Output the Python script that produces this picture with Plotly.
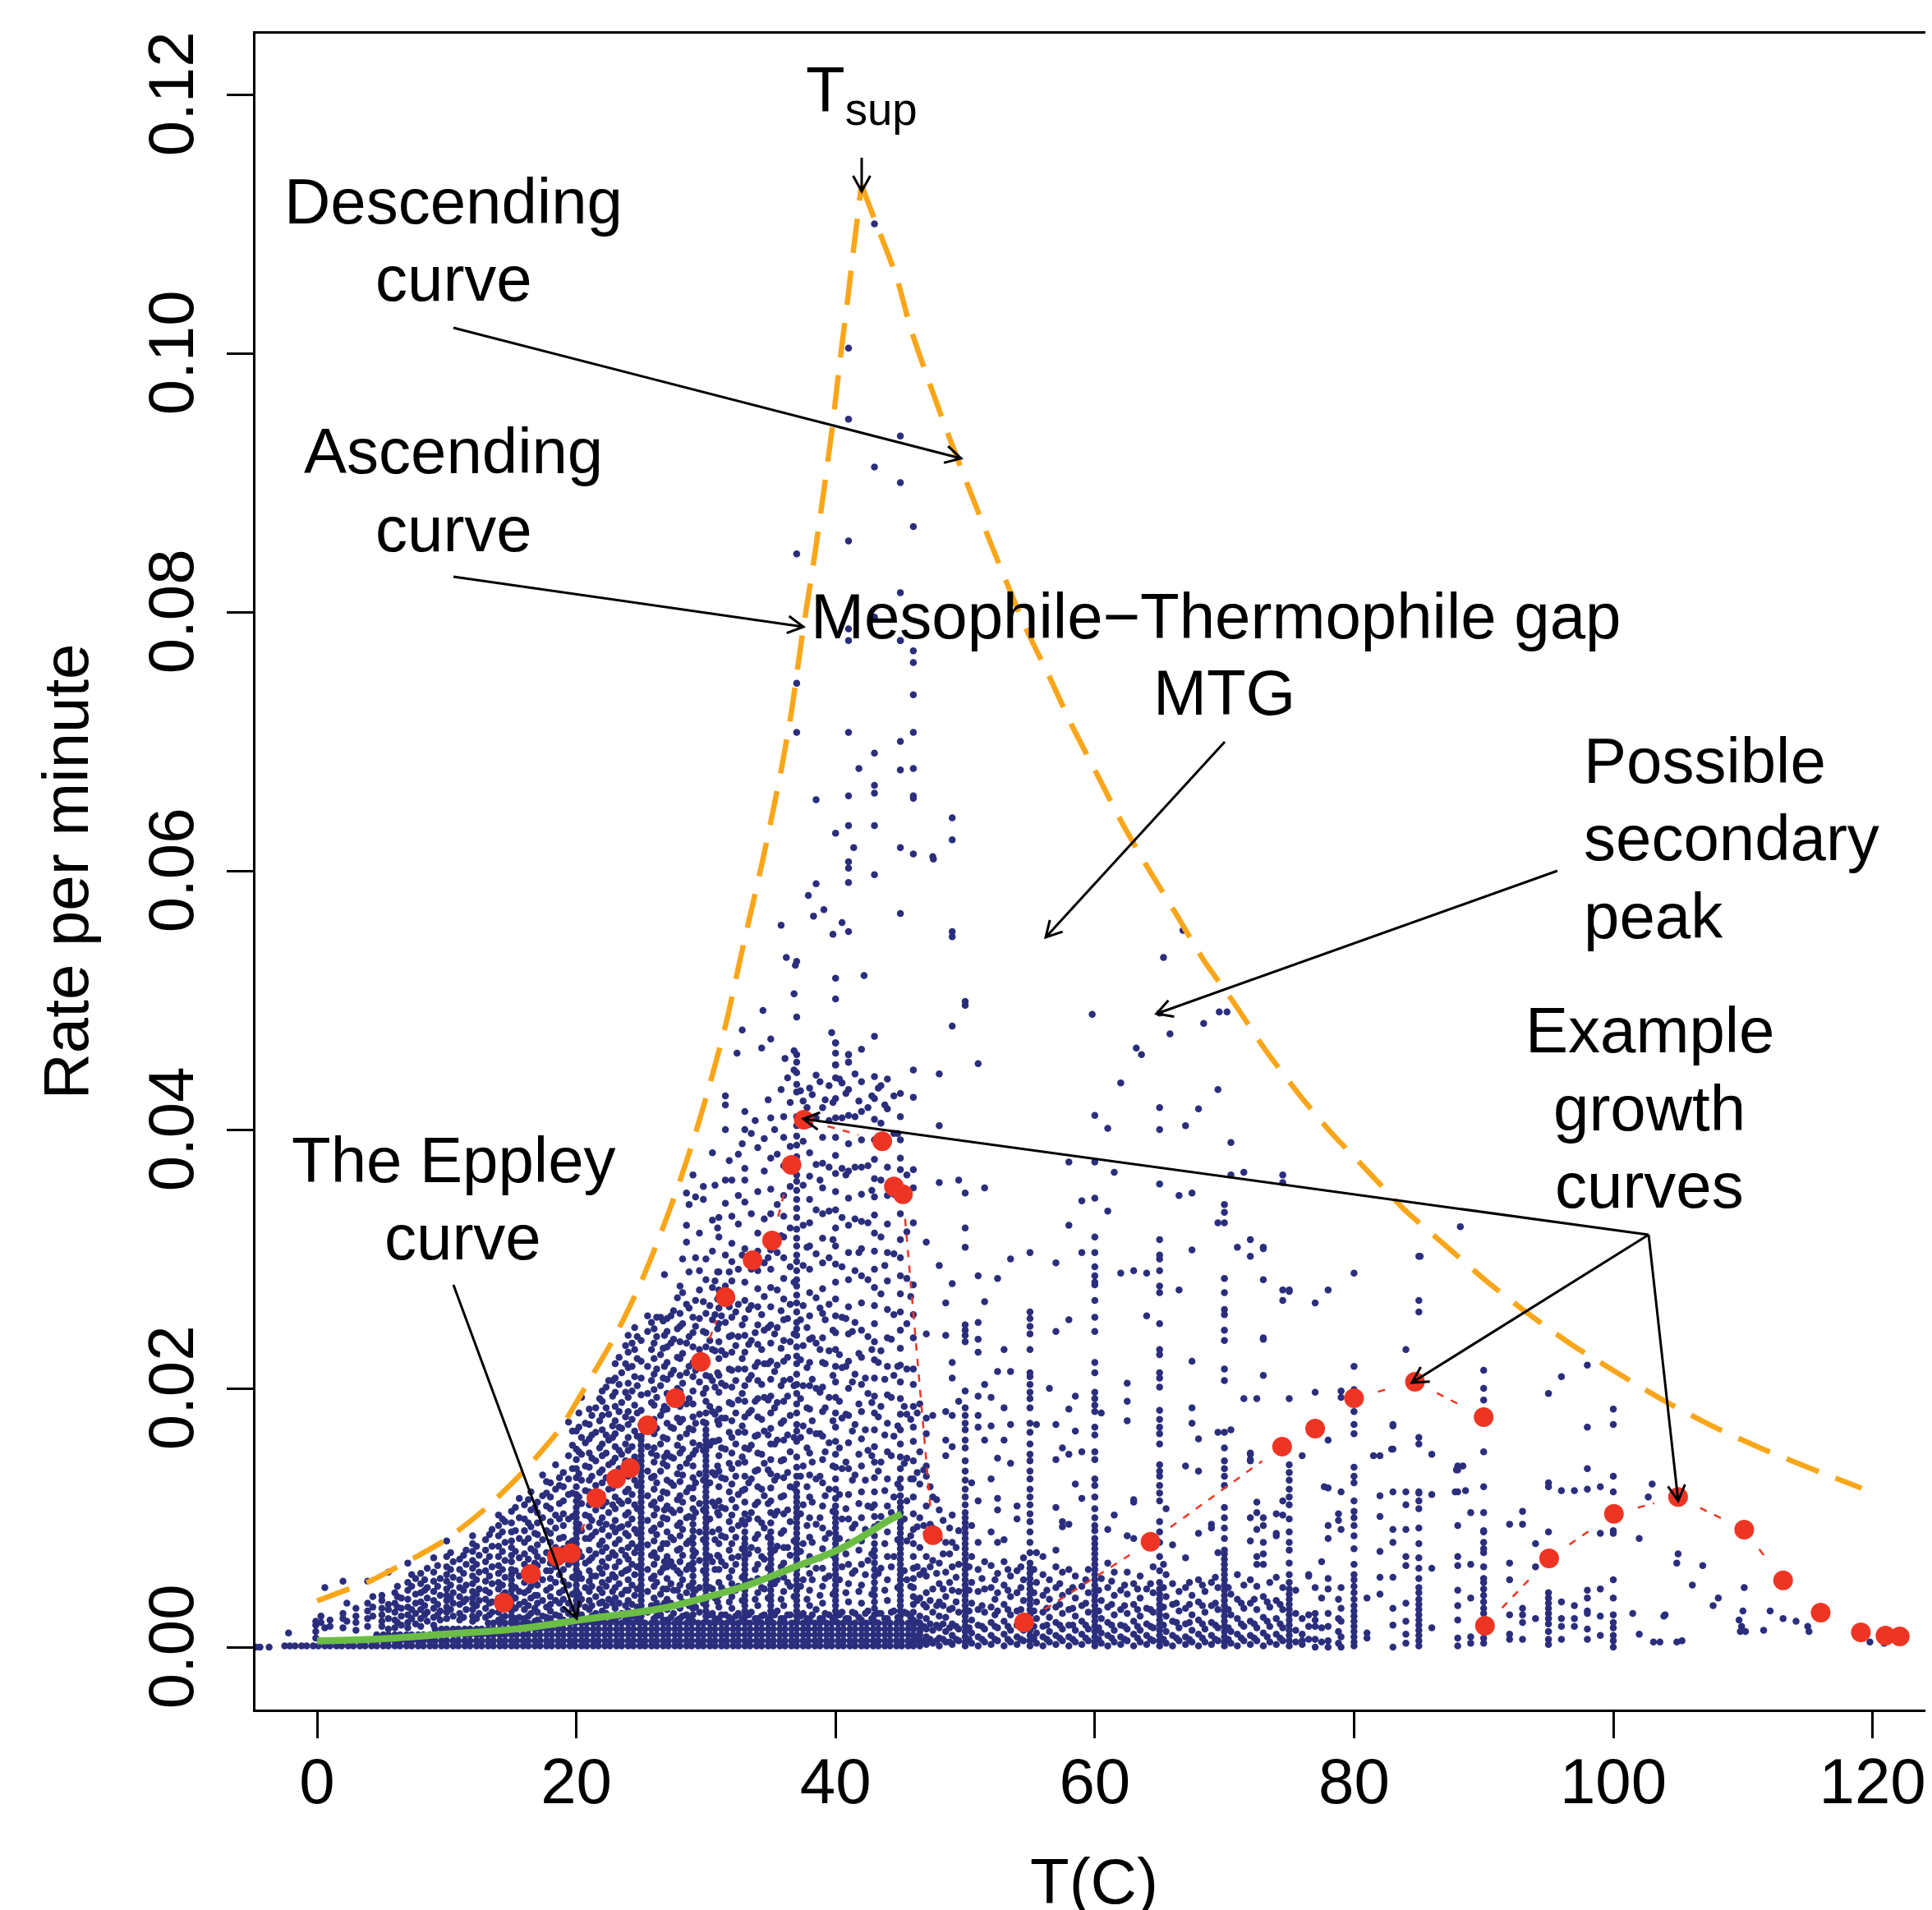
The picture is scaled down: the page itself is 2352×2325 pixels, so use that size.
import plotly.graph_objects as go

# ---------- data (T in deg C, rates in thousandths per minute) ----------
band_T = [-2.5,-2.1,-1.7,-1.2,-.8,-.3,.1,.6,1.0,1.5,1.9,2.4,2.8,3.3,3.7,4.2,4.6,5.1,5.5,6.0,6.4,6.9,7.3,7.8,8.2,8.7,9.1,9.6,10.0,10.5,10.9,11.4,11.8,12.3,12.7,13.2,13.6,14.1,14.5,15.0,15.4,15.9,16.3,16.8,17.2,17.7,18.1,18.6,19.0,19.5,19.9,20.4,20.8,21.3,21.7,22.2,22.6,23.1,23.5,24.0,24.4,24.9,25.3,25.8,26.2,26.7,27.1,27.6,28.0,28.5,28.9,29.4,29.8,30.3,30.7,31.2,31.6,32.1,32.5,33.0,33.4,33.9,34.3,34.8,35.2,35.7,36.1,36.6,37.0,37.5,37.9,38.4,38.8,39.3,39.7,40.2,40.6,41.1,41.5,42.0,42.4,42.9,43.3,43.8,44.2,44.7,45.1,45.6,46.0,46.5]
band_rate = [.1,.5,.95,1.4,1.85]
band_start = [-2.5,.5,4.5,9,13]
far_left_T = [-4.7,-4.4,-3.7]
far_left_rate = [0,0,0]

blue_columns = [
(-2.2,[1.1]),(-.1,[.7,1.2,1.7,2.0]),(.6,[1.5,4.6]),(1,[1.6,2.1]),(2,[1.5,2.2,2.6,5.1]),(3,[1.3,1.9,2.4,3.0]),(3.9,[1.6,2.2,2.8,3.4,5.1]),
(5,[1.6,2,2.5,3,3.6,4.0]),(5.5,[1.4,2.2,2.9,3.3,5.8]),(6,[1.5,2.1,2.7,3.4,4.2]),(6.5,[1.7,2.4,3,3.8]),(7,[1.5,1.9,2.5,3.1,3.7,4.4,5.0,6.5]),(7.6,[1.8,2.6,3.4,4.1,5.3]),
(8,[1.6,2.2,2.9,3.5,4.2,4.9,5.7]),(8.5,[2,2.7,3.8,4.6,6.1]),(9,[1.7,2.3,3,3.6,4.3,5.1,5.8,6.9]),(9.5,[2.1,2.8,4,5.3]),
(10,[2.2,2.7,3.1,3.6,4,4.5,5.1,5.6,6.2,7,8.2]),(10.5,[2.4,3.4,4.2,5.4,6.6]),(11,[2.1,2.6,3.3,3.9,4.6,5.2,6,6.8]),(11.5,[2.9,3.7,4.8,6.4,7.5]),
(12,[2,2.4,2.9,3.4,3.8,4.3,4.9,5.5,6.1,6.7,7.4,8,8.6]),(12.5,[2.6,3.6,4.5,5.8,7.1]),(13,[2.3,3,3.7,4.4,5.1,5.9,6.6,7.5,8.3]),(13.5,[2.7,3.5,4.9,6.2,7.8,9.1]),
(14,[2.1,2.7,3.2,3.8,4.5,5,5.7,6.3,7,7.8,8.6,9.4,10.2]),(14.5,[2.4,3.4,4.2,5.4,6.7,8.1,9.7]),
(15,[2,2.4,2.8,3.2,3.6,4,4.4,4.8,5.2,5.6,6,6.6,7.1,7.7,8.2,8.9,9.6,10.5]),(15.6,[2.3,3.3,4.3,5.5,6.9,8.4,10,11.5]),
(16,[2.2,2.9,3.5,4.2,5,5.8,6.4,7.2,8.1,9,9.9,11]),(16.5,[2.6,3.8,4.7,6.1,7.6,9.3,10.6,12]),
(17,[2.1,2.7,3.4,4,4.8,5.5,6.3,7,7.9,8.7,9.6,10.4,11.2]),(17.4,[2.4,3.6,5.2,6.7,8.3,10,11.7,13.3]),
(18,[2.2,2.8,3.3,3.9,4.6,5.3,5.9,6.5,7.3,8.1,8.8,9.7,10.7,11.6,12.7]),(18.4,[2.5,3.6,5,6.2,7.7,9.2,10.2,12.2,14.1]),
(19,[2.1,2.9,3.7,4.4,5.1,6,6.8,7.6,8.5,9.4,10.3,11.3,12.4,13.5]),(19.4,[2.6,3.4,4.8,6.4,8,9.9,11.8,13,14.8,17.4]),
(20,[2,2.4,2.8,3.2,3.6,4,4.4,4.8,5.2,5.6,6,6.4,6.8,7.2,7.6,8,8.4,8.8,9.2,9.6,10,10.4,10.8,11.3,11.8,12.4,13.1,13.8,14.5,15.3,16.7]),(20.4,[2.5,3.7,5.3,7,9,11.1,12.9,14.9,16.2,19.3]),(20.7,[3.1,4.6,6.5,8.4,10.2,12.1,14,15.8,17.3]),
(21,[2.2,2.9,3.6,4.3,5.1,5.9,6.7,7.5,8.4,9.3,10.1,11,12,12.9,13.9,15,16.1,17.2,18.4]),(21.5,[2.6,3.9,5.5,7.2,8.9,10.6,12.5,14.4,16.6,18.5]),
(22,[2.1,2.8,3.5,4.2,5,5.7,6.6,7.4,8.2,9.1,10,10.9,11.8,12.7,13.7,14.8,15.7,16.8,17.9,19,19.8]),(22.5,[2.4,3.7,5.2,6.9,8.6,10.4,12.2,14.1,16,18,20.6]),
(23,[2.2,3,3.8,4.6,5.4,6.2,7.1,8,8.9,9.8,10.7,11.6,12.6,13.5,14.6,15.5,16.5,17.5,18.6,19.7,20.8,21.9]),(23.5,[2.6,4.1,5.7,7.5,9.3,11.1,13,14.9,16.9,18.9,21.2]),
(24,[2.1,2.8,3.6,4.4,5.2,6,6.8,7.7,8.6,9.5,10.4,11.3,12.2,13.2,14.1,15.2,16.2,17.2,18.2,19.3,20.4,21.6,22.8,24.1]),(24.5,[2.5,4,5.6,7.3,9.1,11,12.9,14.7,16.7,18.7,20.9,23,24.7]),
(25,[2,2.4,2.8,3.2,3.6,4,4.4,4.8,5.2,5.6,6,6.4,6.8,7.2,7.6,8,8.4,8.8,9.2,9.6,10,10.4,10.8,11.2,11.6,12,12.4,12.8,13.2,13.6,14,14.4,14.8,15.2,15.6,16,16.3,17.2,18.3,19.5,20.8,22.1,23.7]),(25.5,[2.7,4.3,6,7.9,9.8,11.7,13.6,15.5,17.5,19.6,21.7,24.4,25.6]),(25.8,[3.2,5.3,7.1,9,11,13.1,15,16.9,18.9,20.6,23,25.1]),
(26,[2.2,3,3.8,4.7,5.5,6.4,7.3,8.2,9.2,10.2,11.2,12.2,13.2,14.3,15.4,16.5,17.6,18.7,19.9,21.1,22.3,23.5,24.6]),(26.5,[2.5,4.1,5.8,7.6,9.5,11.5,13.6,15.7,17.9,20.2,22.6,25.5]),(26.8,[3.4,6.6,10.6,14.7,18.6,21.7,24.1,28.8]),
(27,[2.1,2.9,3.7,4.5,5.3,6.2,7,8,8.9,9.9,10.9,11.9,12.9,14,15,16.1,17.3,18.4,19.6,20.7,22,23.2,24.4,25.4]),(27.5,[2.6,4.4,6.2,8.3,10.4,12.5,14.6,16.9,19.2,21.4,23.8,26]),
(28,[2.2,3,3.9,4.8,5.7,6.6,7.6,8.6,9.6,10.6,11.7,12.8,13.9,15,16.2,17.4,18.6,19.8,21,22.3,23.6,24.8,25.8,27.9]),(28.5,[2.5,4.2,6,8,10,12,14.2,16.5,18.8,21.2,23.5,26.5,31.3,32.6,35.1]),
(29,[2,2.5,3,3.5,4,4.5,5,5.5,6,6.5,7,7.5,8,8.5,9,9.5,10,10.7,11.5,12.3,13.1,14,14.9,15.8,16.8,17.8,18.8,19.8,20.9,22,23.2,24.3,25.5,36.5]),(29.5,[2.7,4.6,6.7,8.9,11.1,13.4,15.6,18,20.5,23,25.4,27.6,29.1,32]),(29.8,[3.4,5.9,8.3,10.6,12.9,15.2,17.4,19.6,21.9,24.4,26.7,34.6,35.6]),
(30,[2,2.4,2.8,3.2,3.6,4,4.4,4.8,5.2,5.6,6,6.4,6.8,7.2,7.6,8,8.4,8.8,9.2,9.6,10,10.4,10.8,11.2,11.6,12,12.4,12.8,13.2,13.6,14,14.4,14.8,15.2,15.6,16,16.4,16.8,17.3,18.1,19,20,21,22.1,23.2,24.3,25.8,28.4,30]),(30.5,[2.6,4.5,6.6,8.9,11.2,13.5,15.9,18.2,20.6,23,25.3,27.8,30.6,33,38.2]),(30.9,[3.5,7.1,10.4,14,17.5,21.2,24.6,26.9,29,32.4]),
(31,[2.2,3.1,4,5,6,7,8,9.1,10.2,11.3,12.4,13.6,14.8,16,17.2,18.4,19.7,21,22.3,23.6,25,26.2,27.6,29,31.7,33.2]),(31.5,[2.5,4.3,6.3,8.5,10.7,13,15.3,17.7,20.2,22.6,25.1,27.9,30.3,34.3,36.1,40,41.9,42.6]),
(32,[2.1,3,3.9,4.9,5.9,6.9,8,9.1,10.2,11.4,12.6,13.8,15,16.2,17.5,18.8,20.1,21.4,22.8,24.1,25.5,26.9,28.3,29.8,31.2,33.3,36.1]),(32.5,[2.6,4.7,7,9.4,11.8,14.2,16.6,19.1,21.5,24,26.5,29.2,32.7,34.9,38.1]),
(33,[2,2.4,2.8,3.2,3.6,4,4.4,4.8,5.2,5.6,6,6.4,6.8,7.2,7.6,8,8.4,8.9,9.5,10.3,11.2,12.2,13.2,14.3,15.4,16.6,17.8,19,20.2,21.5,22.8,24.1,25.4,26.8,28.2,30.8,34.4,36.1,37,40,41.4]),(33.5,[2.7,5.1,7.7,10.4,13,15.6,18.3,21,23.7,26.4,29.2,33.5,39.7]),
(34,[2.2,3.2,4.2,5.3,6.4,7.5,8.7,9.9,11.2,12.4,13.7,15,16.4,17.8,19.2,20.6,22,23.4,24.9,26.3,27.7,29.1,30.6,32,35.2,38.6]),(34.5,[2.5,4.5,6.8,9.2,11.7,14.2,16.7,19.3,21.9,24.5,27.1,29.7,33.1,36.8,39.3]),
(35,[2,2.4,2.8,3.2,3.6,4,4.4,4.8,5.2,5.6,6,6.4,6.8,7.2,7.6,8,8.4,8.9,9.6,10.4,11.3,12.3,13.4,14.5,15.7,16.9,18.1,19.4,20.7,22.1,23.5,24.9,26.3,27.8,29.2,30.7,33.5,35.4,37.8,40.9]),(35.5,[2.8,5.2,7.8,10.5,13.2,16,18.9,21.8,24.7,27.6,30.5,34.2,38.1]),
(36,[2.2,3.2,4.3,5.4,6.5,7.7,9,10.3,11.7,13.1,14.5,16,17.5,19,20.6,22.1,23.7,25.3,26.9,28.5,30.1,31.7,33.3,34.9,37.2,39.4,41]),(36.5,[2.5,4.7,7.1,9.7,12.4,15.1,17.9,20.7,23.6,26.5,29.4,32.4,35.6,38.7,42.1]),
(37,[2,2.4,2.8,3.2,3.6,4,4.4,4.8,5.2,5.6,6,6.4,6.8,7.2,7.6,8,8.4,8.8,9.2,9.6,10,10.4,10.8,11.2,11.6,12,12.6,13.2,13.9,14.7,15.9,16.7,17.2,18.1,18.8,19.6,20.3,21.1,21.9,22.5,23.2,24.1,24.6,25.1,25.9,26.6,27.2,27.9,28.4,29.1,29.8,30.3,31,31.6,32.3,33.2,33.9,34.6,35.3,36,36.5,37.2,37.9,38.8,39.5,40.3,41,42.9,43.5,44.4]),
(37.5,[2.6,5.2,8,11,14,17.1,20.2,23.3,26.4,29.5,32.6,35.7,39.1,42.2]),(38,[2.1,3.2,4.4,5.7,7,8.5,10,11.6,13.3,15,16.7,18.4,20.2,22,23.8,25.6,27.4,29.2,31,32.8,34.6,36.4,38.2,40.4,43.2]),(38.5,[2.9,6.1,9.5,13,16.5,20,23.5,27,30.4,33.8,37.3,40.9,44.2]),
(39,[2.2,3.4,4.7,6.1,7.6,9.2,10.9,12.7,14.5,16.3,18.2,20.1,22,23.9,25.8,27.7,29.7,31.6,33.5,35.5,37.4,39.4,41.7]),(39.5,[2.5,5.5,8.8,12.2,15.8,19.3,22.9,26.5,30.1,33.7,37.1,40.7,43.4]),
(40,[2,2.4,2.8,3.2,3.6,4,4.4,4.8,5.2,5.6,6,6.4,6.8,7.2,7.6,8,8.4,8.8,9.2,9.6,10,10.4,10.9,11.5,12.2,13,13.9,14.9,15.9,17,18.1,19.3,20.5,21.7,23,24.3,25.6,26.9,28.2,29.6,31,32.4,33.8,35.2,36.6,38,39.4,40.9,42.4,44,45,46.7]),(40.5,[2.7,6.2,9.9,13.8,17.7,21.6,25.5,29.4,33.2,37,40.9,43.6]),
(41,[2.2,3.5,4.9,6.4,8.1,9.9,11.8,13.8,15.8,17.9,20,22.1,24.2,26.3,28.4,30.5,32.6,34.7,36.8,38.9,41.1,43.1,45.2,45.8]),(41.5,[2.6,5.9,9.5,13.3,17.2,21.1,25.1,29.1,33.1,37.1,41,44.3]),
(42,[2.1,3.4,4.8,6.4,8.2,10,12,14,16.1,18.2,20.3,22.4,24.5,26.6,28.7,30.8,32.9,35,37.1,39.2,41.4,43.7,46.2]),(42.5,[2.8,6.7,10.9,15.2,19.6,24,28.4,32.8,37.2,41.7]),
(43,[2,2.5,3,3.5,4,4.5,5,5.5,6,6.5,7,7.5,8,8.6,9.3,10.1,11,12,13.1,14.3,15.5,16.8,18.1,19.4,20.8,22.2,23.6,25,26.4,27.8,29.2,30.6,32,33.4,34.8,36.2,37.7,39.2,40.8,42.4,44.1]),(43.5,[2.6,6.1,10.1,14.3,18.6,22.9,27.3,31.7,36.1,40.5,43.4]),
(44,[2.2,3.6,5.2,7,8.9,10.9,13,15.1,17.3,19.5,21.7,23.9,26.1,28.3,30.5,32.7,34.9,37.1,39.3,41.6,43.9]),(44.5,[2.8,7,11.6,16.3,21,25.7,30.4,35,39.7,42.6]),
(45,[2,2.4,2.8,3.2,3.6,4,4.4,4.8,5.2,5.6,6,6.4,6.8,7.2,7.6,8,8.4,8.8,9.2,9.6,10,10.4,10.8,11.2,11.7,12.3,13,13.8,14.7,15.7,16.8,18,19.2,20.5,21.8,23.1,24.5,25.9,27.3,28.7,30.1,31.5,33.5,35.5,36.9,37.8,39.2,41,42.8]),(45.5,[2.6,5.2,8.2,11.3,14.6,18,21.5,25,28.5,32.1,35.1,36.5]),
(46,[.3,.9,1.5,2.1,2.7,3.3,3.9,4.6,5.3,6.1,7,8,9.1,10.3,11.6,13,14.4,15.9,17,18.6,20.3,21.5,23.9,25.7,28,32.8,35.5,36.9,42.5,44.6]),(46.5,[.4,1.2,2.4,3.8,5.6,7.7,10,12.6,15.1,18.8]),
(47,[.2,.8,1.4,2.2,3.1,4.2,5.5,7,8.8,10.9,13.2,14,16.5,17.7,24.2,31.3]),(47.5,[.3,1.3,2.7,4.5,6.7,9.2,11.6,17.9]),
(48,[.1,.7,1.5,2.4,3.5,4.9,6.5,8.4,10.6,29.5,35.9,40.3,44.3]),(48.5,[.4,1.2,2.3,3.9,5.8,8.1,14.8,16,18.2,24.1,26.6]),
(49,[.2,.9,1.8,3,4.4,6.2,8.1,10.2,15.5,17.9,20.8,22,28.1]),(49.5,[.5,1.4,2.7,4.3,6.4,9,19,36.1]),
(50,[.1,.4,.8,1.2,1.6,2,2.4,2.8,3.2,3.6,4,4.4,4.8,5.2,5.6,6,6.4,6.8,7.2,7.6,8,8.4,8.8,9.2,9.6,10,10.4,11,11.6,12.2,12.9,13.6,14.4,15.4,16,16.8,17.3,17.9,18.5,19.8,23.6,24.1,24.5,24.9,30.9,32.4,35.1]),
(50.5,[.3,1.1,2.1,3.4,5,7,9.4,12.7]),(51,[.1,.8,1.7,2.9,4.3,6,8.1,11.3,17,17.9,19.4,22.8,23.8,25.1,28.7]),(51.5,[.4,1.4,2.7,4.5,6.6,20.3,26.7,35.5,16]),
(52,[.2,.9,1.9,3.1,4.6,6.3,8.9,13,17.1,19.3]),(52.5,[.5,1.5,2.8,4.2,5.7,8.1,10.6,11.5,14.6,21.3,28.5]),(53,[.1,1,2,3.3,4.8,6.6,8.3,16,18.5,23]),(53.5,[.4,1.3,2.5,3.9,5.5,17.2,21.3,30,14.2]),
(54,[.2,.8,1.7,2.8,4.2,5.9,9.9,10.9]),(54.5,[.5,1.3,2.3,3.6,5.2,6.9]),
(55,[.1,.5,.9,1.3,1.7,2.1,2.5,2.9,3.3,3.7,4.1,4.5,4.9,5.3,5.7,6.1,6.5,7.3,8.1,8.9,9.7,10.3,11,11.6,12.2,13,13.6,14.4,14.9,15.7,16.6,17.3,18.5,19.2,19.7,20.3,20.9,21.2,23,24.2,24.8,25.4,25.9,30.5]),
(55.5,[.3,1.1,2.2,3.5,5,7.3,17.2]),(56,[.1,.8,1.6,2.7,4,5.6,7]),(56.5,[.4,1.2,2.3,3.7,5.2,20]),(57,[.2,.9,1.9,3.1,4.6,6.2,7.5,10.8,14.5,17.2,24.4,29.7]),(57.5,[.5,1.4,2.6,4,5.8,9.3,9.7,15.4]),(58,[.1,.8,1.7,2.9,4.3,6,9.5,14.9,18.4,25.3,32.6,37.5]),(58.5,[.4,1.3,2.4,3.8,5.5,12.6,16.7,19.4]),(59,[.2,1,2,3.2,4.7,11.5,15.1,30.5,34.5]),(59.5,[.5,1.4,2.7,4.2,6]),
(60,[.1,.4,.8,1.2,1.6,2,2.4,2.8,3.2,3.6,4,4.4,4.8,5.2,5.6,6,6.4,6.8,7.2,7.6,8,8.4,9,9.4,10,10.7,11.6,12.5,13,14.5,15.1,16.4,17,18.2,18.7,19.2,19.7,21.2,22,24.4,25.5,26.8,28,28.2,28.7,29.4,30.5,31.7,34.7,37.5,41.1]),
(60.5,[.3,1.1,2.2,3.6,5.3,18.1]),(61,[.1,.9,1.9,3.1,4.6,6.5,9.1,33.7,40.1]),(61.5,[.4,1.3,2.5,4,5.8,10.2,36.7]),(62,[.2,.8,1.7,2.9,4.4,28.9,43.6]),(62.5,[.5,1.4,2.6,4.1,5.8,8.6,17.5,19,20.4]),(63,[.1,1,2,3.3,4.9,8.4,11.2,11.4,29.1]),(63.5,[.4,1.3,2.4,3.8,5.5]),(64,[.2,.9,1.8,3,4.5,28.9,25.6]),(64.5,[.5,1.5,2.7,4.2,6.2]),
(65,[.1,.5,.9,1.3,1.7,2.1,2.5,2.9,3.3,3.7,4.1,4.5,5,5.9,7,8.1,8.9,9.7,11.3,11.9,12.5,13.2,13.6,14.1,15.7,16.5,17,17.6,18.3,20.1,20.8,21.2,22.6,23,25,27.4,27.9,29.1,30,30.3,31.5,35.8,40,41.7]),
(65.5,[.3,1.2,2.4,3.9,5.6,10.7]),(66,[.1,.9,2,3.3,4.9,7.9]),(66.5,[.5,1.5,2.8,4.3,27.6,34.9]),(67,[.2,.8,1.8,3,4.6,6.9,14,40.3]),(67.5,[.4,1.3,2.5,4,22.1,30.7,35.1,17.3,18.5]),(68,[.1,1,2.1,3.5,5.2,8.8,13.6,16.1,41.6]),(68.5,[.4,1.4,2.7,4.3]),(69,[.2,.9,1.9,3.2,5,9.2,9.5]),(69.5,[.5,1.5,2.9,4.6,7.3,16.6,32.8,43.1]),
(70,[.1,.4,.8,1.2,1.6,2,2.4,2.8,3.2,3.6,4,4.4,4.8,5.2,5.6,6,6.4,6.8,7.2,7.5,8.4,9.2,10,10.8,12.5,13.2,13.8,14.4,15.4,16.6,20.6,21.5,23.7,24.5,25.7,26.1,27.4,28.5,32.8,33.6,34.2]),
(70.5,[.3,1.2,2.5,4.1,16.8,39,36.5]),(71,[.1,1,2.2,3.7,5.6,30.9]),(71.5,[.5,1.6,3,4.8,19.2,36.7]),(72,[.2,.9,2,3.4,5.2,10,14.5,14.9,31.5,30.2,14.4,15,8.2]),(72.5,[.5,1.5,2.9,4.7,6.4,7,9.1,19.2,10.4,11.2]),(73,[.1,1.1,2.3,3.9,6.4,7.2,8.1,10,9.4,21,23.8,28.4,30.8,30.9,23.9]),(73.5,[.4,1.6,3.1,5]),(74,[.2,1,2.2,3.6,5.4,8.6,8.8,10.3]),(74.5,[.5,1.5,2.9,4.6,10.2,11.3,26.8,27.6,36.5,35.9]),
(75,[.1,.5,.9,1.3,1.7,2.1,2.5,2.9,3.3,3.7,4.1,4.5,5,5.6,6.5,7.5,8.1,8.9,9.9,11,11.6,12.2,12.9,13.5,14.1,27.5,19.2,27.6]),(75.5,[.4,1.3,2.6,4.4]),(76,[.2,1,2.2,.5,14.8]),(76.5,[.6,1.6,2.5,5.5,5.6]),(77,[.0,.6,1.6,2.1,2.6,4.6,19.7,26.6]),(77.5,[.4,1.5,3.8,6.6]),(78,[.0,.5,1.6,2.6,4.5,5.3,8.4,9.4,16,27.6,12.3]),(78.8,[.3,1.2,2.2,3.7,9.8,10.3]),(79,[.0,.8,2,3,4.6,9.1,12,19.3,19.8]),
(80,[.1,.4,.8,1.2,1.6,2,2.4,2.8,3.2,3.7,4.2,4.7,5.2,5.6,6.4,7.6,8.6,9.4,10,10.5,11.3,12.7,13.2,13.9,16.5,17.2,18.2,19.9,21.7,28.9]),(81,[.7,1.1,3.8]),(82,[4.1,5.4,7.4,11.7,14.8,10.1]),(83,[.0,1.7,3,5.4,8.1,15.3,17.1,17.2,9.1,12]),(84,[.3,1,2,3.4,6.3,7,9.1,12,11,23]),
(85,[.1,.5,.9,1.3,1.7,2.1,2.5,2.9,3.3,3.7,4.2,4.6,5.3,6.1,6.9,8,9.2,10.7,11.3,11.9,12,15.7,16.2,25.9,26.8,30.2]),(86,[1.5,6.1,11.8,14.9]),(88,[.1,.7,2.1,3.2,4.4,6.3,7,9.4,12,13.7,14]),(89,[.3,.8,3.8,6.4,10.4]),
(90,[.3,.7,1.2,1.7,2.1,2.6,3,3.5,4,4.5,5,5.3,6.2,7.3,7.6,8.1,8.9,9,10.4,12.4,15.1,19.1,20,21.4]),(92,[.6,1,2.5,5.2,6.5,9.5]),(93,[.6,1.9,2.5,3,9.5,10.5]),(94,[2.2,6.2,8]),
(95,[.2,.6,1.2,1.8,2.2,2.6,3,3.4,3.8,4.2,8.9,12.4,12.7,19.6]),(96,[.6,1.6,2.2,3.5,12.1,20.9]),(97,[1.6,2.2,3.2,12.1]),(98,[.6,1.4,2.6,2.8,3.8,4.4,12.2,13.8,17,21.8]),(99,[.9,2.4,8.8,4.5,12.4]),
(100,[.0,.5,.9,1.5,1.9,2.5,3.8,5.2,8.8,9,12,13.2,17.2,18.4]),
]

# further off-column dots filling the crowded lower-left of the cloud
blue_fill_columns = [
(.3,[1.9,2.4]),(2.3,[2,3.4]),(4.3,[2.4,3.1,3.9]),(6.2,[1.9,3.1,3.9,4.7]),(7.3,[2.2,2.9,4.7,5.6]),(8.3,[2.5,3.2,4.4,5.2]),(9.3,[2.5,3.3,4.7,6.3]),(10.3,[2.9,3.8,4.8,6,7.3]),(11.3,[2.3,3.5,4.4,5.7,7.1]),(12.3,[2.2,3.2,4.1,5.2,6.4,7.8]),(13.3,[2.5,3.4,4.2,5.5,7,8.7]),(14.3,[2.3,3,4,4.8,6,7.4,8.9,9.9]),(15.3,[2.2,3,3.8,4.6,5.9,7.4,9,10.8]),
(16.3,[2.4,3.2,4.4,5.3,6.8,8.4,9.6,11.4]),(16.8,[2,3,4,5.1,6.5,7.4,8.8,10.8]),(17.7,[2.3,3.1,4.4,5.9,7.3,9,10.9,11.9,12.8]),(18.7,[2.4,3.4,4.2,5.6,6.9,8.4,9.9,11.1,13.1,12.5]),(19.7,[2.2,3,4.1,5.4,6.6,8.2,10.1,11.9,13.8,15.6,16.7]),
(20.2,[2.3,3.3,4.1,5.7,7.4,9.5,11.6,13.4,15.1,17,18.1]),(21.2,[2.4,3.2,4.7,5.5,6.9,8.6,9.8,11.4,13.2,14.6,16.4,17.9]),(21.8,[2.1,3.4,4.5,6.1,7.9,9.6,11.5,13.5,15.4,17.5,19.2]),(22.3,[2.6,3.2,4.7,6.2,7.7,9.5,11.2,13.1,15,16.4,18.5,20.1]),(22.8,[2.2,3.4,4.3,5.6,7.3,9.3,11,12.3,14.3,16.2,17.1,19.4,20.6]),
(23.3,[2.4,3.4,4.9,6.6,8.3,9.2,11.3,13.8,15.2,17,18.2,20.3,22.4]),(23.8,[2.1,3.2,4.4,5.9,7.1,8.8,10.2,12,14.4,15.7,17.8,19.7,21.9,23.3]),(24.3,[2.4,3.3,4.8,6.4,8,9.9,11.8,13.5,15.5,17.6,19.8,21.7,23.5]),(24.7,[2.2,3.1,4.5,6.2,7.7,8.8,10.7,12.5,14.3,16.3,18.1,20.2,22.3,24]),
(26.2,[2.4,3.4,5,6.9,8.7,10.7,12.7,14.8,16.9,19.3,21.5,24,25.5]),(26.7,[2.1,3.2,4.5,6.1,8,10,12,14.2,16.2,18.3,20.8,23.1,25.2]),(27.3,[2.3,3.4,4.9,6.6,8.5,10.6,12.7,14.7,17,19.1,21.1,23.5,25.6]),(27.8,[2.1,3.2,4.4,5.9,7.5,9.4,11.4,13.4,15.6,17.7,20,22.4,24.6,27]),
(28.2,[2.4,3.5,5.2,7.1,9.1,11.2,13.3,15.3,17.6,20.4,22.7,25,27.4,30]),(28.7,[2.2,3.2,4.7,6.3,8.2,10.1,12.3,14.6,16.9,19.2,21.7,24,26.2,29,34.2]),(29.2,[3.1,4.4,7.3,10.4,12.7,15.2,17.3,21.4,24.8,26.8,30.1,34.8]),
(30.3,[2.5,4.6,7,9.9,12.7,15.6,18.6,20.9,23.7,26.4]),(30.7,[2.2,3.8,6,8.3,10.9,13.3,15.9,18,20.1,22.9,25.7,28.3,35.7]),(31.2,[2.5,4.6,6.6,8.6,10.8,13.1,15.4,17.7,20.4,22.9,25.6]),(31.8,[2.3,3.5,5.4,7.5,9.7,12,14.2,16.6,18.9,21.5,24,26.3,29,37.6]),
(32.3,[2.4,4.4,6.4,8.5,10.8,13.2,15.7,18.1,20.6,23.3,25.9]),(32.8,[2.2,3.6,5.4,7.6,9.8,12.1,14.7,17.1,19.6,22.3,24.9,30.3,38.9]),(33.3,[2.5,4.9,7.2,9.9,12.7,15.3,18.1,20.7,23.4,26.1]),(33.8,[2.2,3.7,6,8.4,11,13.6,16.3,19,21.7,24.3,30,40.7]),
(34.3,[2.4,4.6,7,9.6,12.2,14.9,17.6,20.3,23,25.7]),(34.8,[2.1,3.8,6.1,8.5,11.1,13.7,16.4,19.1,21.9,24.7,30.1,42.3]),(35.3,[2.5,4.9,7.5,10.2,12.9,15.7,18.5,21.3,24.2,40]),(35.8,[2.2,3.7,6.2,8.8,11.6,14.4,17.3,20.2,23.1,26,31.8,43.1]),
(36.3,[2.5,5,7.7,10.6,13.5,16.4,19.4,22.4,25.4,44]),(36.8,[3.9,8.2,12.3,16.2,20.2,24.2,28.2,44.6]),(37.3,[2.4,4.7,7.4,10.3,13.2,16.2,19.2,22.2,25.3,43]),(37.8,[2.2,3.7,6.4,9.4,12.4,15.4,18.5,21.6,24.7,30.9,41.7]),
(38.2,[2.5,5.2,8.1,11.2,14.3,17.5,20.7,23.9,42.7]),(38.8,[2.2,4,6.9,10,13.2,16.5,19.7,23,26.2,36.1,43.7]),(39.2,[2.6,5.3,8.4,11.7,15.1,18.5,21.9,25.3,42.3]),(39.8,[2.2,4.1,7.1,10.5,14,17.5,21,24.5,31.5,42.1]),
(40.3,[2.5,5.2,8.4,11.8,15.4,19,22.6,43.9]),(40.8,[2.2,4.2,7.2,10.7,14.3,18,21.7,25.4,36.5,42.8]),(41.3,[2.7,5.7,9.2,12.9,16.7,20.5,24.4]),(41.8,[2.3,4.3,7.5,11.1,14.9,18.8,22.7,30.5,42.2]),
(42.3,[2.6,5.6,9.1,12.9,16.8,20.8]),(42.8,[2.2,4.1,7.2,10.8,14.8,18.9,23,35.3,42.6]),(43.3,[2.6,5.7,9.5,13.6,17.8,22,43.2]),(43.8,[2.2,4.4,8,12.1,16.4,20.7,29.5,41.9]),
(44.3,[2.7,6.2,10.4,14.8,19.3,23.8]),(44.8,[2.3,4.6,8.3,12.6,17.1,21.7,35.4,39.7]),(45.3,[2.7,5.9,9.9,14.2,18.6]),(45.8,[2.3,4.7,8.6,13,17.6,27.1]),
(46.3,[.7,1.9,3.6,6.2,9.3,13.5,18.1]),(46.8,[.5,1.6,3.3,5.9,9.4,13.7]),(47.3,[.6,1.8,3.6,6.2,9.5,12.4]),(47.8,[.5,1.7,3.2,5.7,8.7,11.4]),(48.3,[.6,1.8,3.2,4.5,7.2,9.8]),(48.8,[.4,1.5,2.9,5,7.2,9.2]),(49.3,[.6,1.6,3.5,5.4,7.7]),(50.3,[.6,1.5,2.8,4.4,6.2]),(51.3,[.6,1.6,3.2,5.3]),(52.3,[.6,1.6,2.5,3.7,5.2]),(53.3,[.6,1.6,2.9,4.4,6]),(54.3,[.6,1.5,2.9,4.6,6.2]),
(55.3,[.7,1.6,2.8,4.2,6]),(56.3,[.6,1.7,3,4.4]),(57.3,[.7,1.7,3.3,4.9]),(58.3,[.6,1.7,3,4.6]),(59.3,[.7,1.7,3.4,5.2]),(60.3,[.6,1.5,2.8,4.4]),(61.3,[.7,1.7,3.3,5.1]),(62.3,[.6,1.6,3.2,4.8]),(63.3,[.7,1.6,2.9,4.5]),(64.3,[.6,1.6,2.9,4.9]),
(65.3,[.6,1.7,3.1,4.6,6.4]),(66.3,[.7,1.9,3.4]),(67.3,[.6,1.9,3.3,5]),(68.3,[.7,1.8,3.2,4.8]),(69.3,[.6,1.7,3.4,5.4]),(70.3,[.6,1.5,2.9,4.6]),(71.3,[.7,1.8,3.4]),(72.3,[.7,1.8,3.7]),(73.3,[.8,2,3.5]),(74.3,[.7,1.8,3.3]),
]

blue_T_loose = [43.0,43.0,45.0,43.0,65.3,66.8,70.2,103.0,102.7,104.0,103.9,105.0,104.9,106.9,106.1,110.1,108.1,107.7,110.0,112.1,113.1,114.1,115.0,115.1,109.7,109.9,109.8,110.2,111.6,101.5,102.0,102.0,103.1,103.6,105.3,119.8,120.9,104.9,88.2,87.9,88.4,87.8,88.6,81.5,82.9,85.1,77.7]
blue_rate_loose = [110.0,91.2,93.6,79.6,53.3,55.4,49.1,12.6,11.6,2.5,2.4,7.2,6.5,6.3,4.8,4.6,3.8,3.2,2.8,2.8,2.2,2.0,1.6,1.2,2.1,1.6,1.2,1.2,1.3,2.6,8.4,1.0,.4,.4,.5,.4,.3,.4,32.5,13.7,14.0,12.0,12.1,14.8,15.3,30.2,12.4]

blue_T_upper = [41.0,41.0,45.0,45.0,46.0,41.0,37.0,45.0,41.0,45.0,41.0,46.0,46.0,46.0,37.0,37.0,41.0,46.0,45.0,43.0,41.8,45.0,46.0,43.0,43.0,41.0,46.0,46.0,38.5,49.0,49.0,41.0,43.0,40.0,41.4,45.0,46.0,47.5,47.55,41.0,41.0,43.0,41.0,38.5,37.9,39.1,38.3,45.0,40.5,35.8,39.8,41.0,49.0,49.0,36.2,37.0,36.9,40.0,42.2,36.8,40.0,50.0,50.0,34.4,37.0,59.8,65.0,69.6,68.4,49.0,32.8,39.7,43.0,65.8,35.0,34.3,36.8,37.0,40.0,40.0,41.0,41.0,32.4,36.1,37.0,40.0,51.0,63.2,63.6]
blue_rate_upper = [100.4,94.9,90.0,77.8,86.6,85.5,84.5,81.5,78.7,77.8,77.8,77.0,76.1,73.6,74.5,70.7,70.7,70.7,70.0,69.1,67.9,67.8,67.9,66.6,66.0,65.8,65.8,65.6,65.5,64.1,62.4,63.5,63.5,62.9,61.8,61.8,61.3,61.1,60.9,60.7,60.2,59.7,59.1,59.0,58.1,57.0,56.5,56.7,56.0,55.8,55.1,55.3,55.3,54.9,53.3,53.0,52.7,51.7,51.9,50.5,50.1,49.9,49.6,49.2,48.7,48.9,49.0,49.1,48.2,48.0,47.7,47.5,47.2,47.4,47.0,46.3,46.1,45.8,46.7,45.9,45.8,45.2,45.9,45.5,45.2,45.0,45.1,46.3,45.8]

curve_a_T = [14.4,16.5,18.5,19.6,21.55,23.07,24.15,25.5,27.65,29.6,31.5,33.6,35.1,36.6,37.55,43.6,44.5,45.2,47.5]
curve_a_rate = [3.43,5.65,7.02,7.26,11.53,13.02,13.84,17.14,19.24,22.05,27.05,29.9,31.43,37.27,40.76,39.1,35.6,35.0,8.65]
curve_b_T = [54.55,64.3,74.45,77.0,80.0,84.7,90.0]
curve_b_rate = [1.9,8.15,15.5,16.89,19.24,20.51,17.78]
curve_c_T = [90.1,95.05,100.05,105.0,110.1,113.1,116.0,119.1,121.0,122.1]
curve_c_rate = [1.65,6.85,10.3,11.6,9.08,5.16,2.67,1.14,.89,.83]

ascending_T = [0,2.47,3.93,9.9,13.1,16.0,18.8,20.9,23,24.85,26.4,27.85,29.15,30.3,31.55,32.87,34.4,35.77,36.6,37.4,38.3,39.1,39.75,40.35,40.94,41.3,42]
ascending_rate = [3.57,4.5,5.03,8.28,10.8,13.65,16.95,20.44,24.06,27.87,31.65,35.62,39.56,43.5,48.2,54.2,60.9,67.6,72.3,78,83.8,89.4,94.3,99.5,104.2,107.3,113]
descending_T = [42,43.1,44.7,45.8,47.1,48.55,50,51.5,53.07,54.7,56.5,58.2,60.1,62.05,64.05,66.25,68.4,70.8,73.2,75.7,78.2,81.05,83.9,87.1,90.2,93.4,96.8,100.4,104,107.6,111.4,115.3,119.15]
descending_rate = [113,110.1,105.9,101.9,98.1,94.1,90.3,86.5,82.6,78.7,75,71.3,67.6,63.8,60.3,56.7,53.1,49.7,46.1,42.8,39.8,36.8,33.8,31,28.3,25.8,23.37,21.14,19,17.1,15.37,13.78,12.28]
eppley_T = [0,4.25,10.1,15.56,20.4,26.9,30.1,33.35,36.6,40.46,44.3,45.1]
eppley_rate = [.48,.6,1.01,1.42,2.12,3.05,3.87,4.83,6.1,7.64,9.9,10.3]

x_ticks = [0,20,40,60,80,100,120]
y_ticks = [0,.02,.04,.06,.08,.10,.12]
x_title = "T(C)"
y_title = "Rate per minute"

# ---------- styles ----------
FONT = "Liberation Sans"
FS = 78
BLUE, RED, ORANGE, GREEN = "#2B2E7C", "#EE3524", "#FAA61A", "#6BBD45"
W, H = 2352, 2325
PAGE = 8              # the browser's body margin
X_PER_T, Y_PER_RATE = 15.78, 15750.0
X0, Y0 = 386.0, 2005.0
def dx(px): return (px - X0) / X_PER_T
def dy(py): return (Y0 - py) / Y_PER_RATE

# ---------- blue scatter ----------
bx, by = [], []
for r, start in zip(band_rate, band_start):
    for t in band_T:
        if t >= start:
            bx.append(t); by.append(r / 1000)
for T_list, R_list in ((far_left_T, far_left_rate), (blue_T_loose, blue_rate_loose), (blue_T_upper, blue_rate_upper)):
    bx += T_list
    by += [r / 1000 for r in R_list]
for t, rates in blue_columns + blue_fill_columns:
    bx += [t] * len(rates)
    by += [r / 1000 for r in rates]

fig = go.Figure()
fig.add_trace(go.Scatter(x=bx, y=by, mode="markers", marker=dict(color=BLUE, size=8.5, line=dict(width=0)), hoverinfo="skip"))

# red connecting lines with gaps round each point, as in type="b"
GAP = 30
lx, ly = [], []
for Ts, Rs in ((curve_a_T, curve_a_rate), (curve_b_T, curve_b_rate), (curve_c_T, curve_c_rate)):
    for i in range(len(Ts) - 1):
        ax_, ay_ = Ts[i] * X_PER_T, Rs[i] / 1000 * Y_PER_RATE
        bx_, by_ = Ts[i+1] * X_PER_T, Rs[i+1] / 1000 * Y_PER_RATE
        L = ((bx_-ax_)**2 + (by_-ay_)**2) ** .5
        if L <= 2 * GAP + 4:
            continue
        f = GAP / L
        lx += [Ts[i] + (Ts[i+1]-Ts[i]) * f, Ts[i+1] - (Ts[i+1]-Ts[i]) * f, None]
        r0, r1 = Rs[i] / 1000, Rs[i+1] / 1000
        ly += [r0 + (r1-r0) * f, r1 - (r1-r0) * f, None]
fig.add_trace(go.Scatter(x=lx, y=ly, mode="lines", line=dict(color=RED, width=2.5, dash="9px,10px"), hoverinfo="skip"))

for Ts, Rs in ((ascending_T, ascending_rate), (descending_T, descending_rate)):
    fig.add_trace(go.Scatter(x=Ts, y=[r/1000 for r in Rs], mode="lines",
                             line=dict(color=ORANGE, width=6.5, dash="42px,22px", shape="spline", smoothing=.6), hoverinfo="skip"))
fig.add_trace(go.Scatter(x=eppley_T, y=[r/1000 for r in eppley_rate], mode="lines", line=dict(color=GREEN, width=8.5, shape="spline"), hoverinfo="skip"))
fig.add_trace(go.Scatter(x=curve_a_T+curve_b_T+curve_c_T, y=[r/1000 for r in curve_a_rate+curve_b_rate+curve_c_rate],
                         mode="markers", marker=dict(color=RED, size=24, line=dict(width=0)), hoverinfo="skip"))

# ---------- annotations (positions in picture pixels) ----------
texts = [
 ("T<sub>sup</sub>", 1049, 114, "center"), ("Descending", 552, 245, "center"), ("curve", 552, 339, "center"),
 ("Ascending", 552, 549, "center"), ("curve", 552, 644, "center"),
 ("Mesophile\u2212Thermophile gap", 1480, 750, "center"), ("MTG", 1490, 843, "center"),
 ("Possible", 1926, 926, "left"), ("secondary", 1926, 1020, "left"), ("peak", 1926, 1115, "left"),
 ("Example", 2008, 1254, "center"), ("growth", 2008, 1349, "center"), ("curves", 2008, 1443, "center"),
 ("The Eppley", 552, 1412, "center"), ("curve", 563, 1506, "center"),
]
annos = [dict(x=dx(x), y=dy(y), xref="x", yref="y", text=t, showarrow=False, xanchor=a, yanchor="middle",
              font=dict(family=FONT, size=FS, color="black")) for t, x, y, a in texts]
# x-axis title sits below the plot area, so it is placed against the paper
annos.append(dict(x=dx(1332), y=(2081 - 2290) / (2081 - 41), xref="x", yref="paper", text=x_title, showarrow=False,
                  xanchor="center", yanchor="middle", font=dict(family=FONT, size=FS, color="black")))

arrows = [
 ((1049,192),(1049,233)), ((552,399),(1170,558)), ((552,702),(978,763)), ((1491,903),(1273,1141)),
 ((1896,1060),(1408,1234)), ((552,1564),(702,1970)), ((2007,1503),(978,1362)), ((2007,1503),(1719,1683)), ((2007,1503),(2043,1827)),
]
shapes = []
HEAD, SPREAD = 19.0, 0.55
for (x0, y0), (x1, y1) in arrows:
    L = ((x1-x0)**2 + (y1-y0)**2) ** .5
    ux, uy = (x1-x0)/L, (y1-y0)/L
    c, s = HEAD, HEAD * SPREAD
    p = (x1 - c*ux - s*uy, y1 - c*uy + s*ux)
    q = (x1 - c*ux + s*uy, y1 - c*uy - s*ux)
    path = f"M{dx(x0)},{dy(y0)} L{dx(x1)},{dy(y1)} M{dx(p[0])},{dy(p[1])} L{dx(x1)},{dy(y1)} L{dx(q[0])},{dy(q[1])}"
    shapes.append(dict(type="path", xref="x", yref="y", path=path, line=dict(color="black", width=3)))

fig.update_layout(
    width=W-PAGE, height=H-PAGE, showlegend=False, paper_bgcolor="white", plot_bgcolor="white",
    margin=dict(l=311-PAGE, r=0, t=41-PAGE, b=H-2081, autoexpand=False),
    font=dict(family=FONT, size=FS, color="black"),
    annotations=annos, shapes=shapes,
    xaxis=dict(range=[dx(311), dx(2352)], tickvals=x_ticks, ticks="outside", ticklen=32, tickwidth=3, tickcolor="black",
               showline=True, linewidth=3, linecolor="black", mirror=True, showgrid=False, zeroline=False,
               tickfont=dict(family=FONT, size=FS), ticklabelstandoff=-15),
    yaxis=dict(range=[dy(2081), dy(41)], tickvals=y_ticks, tickformat=".2f", tickangle=-90, ticks="outside", ticklen=32, tickwidth=3, tickcolor="black",
               showline=True, linewidth=3, linecolor="black", showgrid=False, zeroline=False,
               tickfont=dict(family=FONT, size=FS), ticklabelstandoff=10, ticklabelshift=11,
               title=dict(text=y_title, standoff=31, font=dict(family=FONT, size=FS))),
)
fig.write_html("out.html")
